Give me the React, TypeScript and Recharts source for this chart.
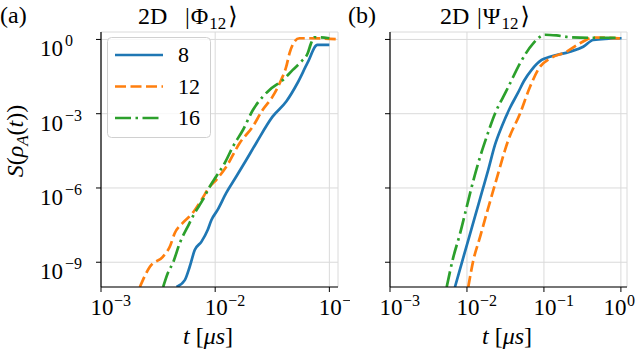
import React from "react";
import { LineChart, Line, XAxis, YAxis, CartesianGrid, Legend } from "recharts";

const FONT = "Liberation Serif, DejaVu Serif, serif";
const txt = { fontFamily: FONT };

// sizes of the subsystem (legend entries)
const sizes = ["8", "12", "16"];
const colors = ["#1f77b4", "#ff7f0e", "#2ca02c"];
const dashes = ["", "11 4.5", "16 4.5 2.5 4.5"];

// ticks
const yTicks = [1e-9, 1e-6, 1e-3, 1];
const phiXTicks = [1e-3, 1e-2, 1e-1];
const psiXTicks = [1e-3, 1e-2, 1e-1, 1];

// (a) 2D |Phi_12>
const phiT8 = [4.58e-3, 5.42e-3, 5.98e-3, 6.62e-3, 7.59e-3, 8.59e-3, 9.27e-3, 1.05e-2, 1.25e-2, 1.53e-2, 1.87e-2, 2.29e-2, 3.18e-2, 4.19e-2, 5.26e-2, 6.43e-2, 7.85e-2, 0.1];
const phiS8 = [1e-10, 1.9e-10, 6.6e-10, 3.1e-9, 6.8e-9, 2.0e-8, 5.1e-8, 1.3e-7, 6.3e-7, 2.9e-6, 1.35e-5, 6.6e-5, 7.6e-4, 3.1e-3, 1.74e-2, 0.112, 0.6, 0.6];
const phiT12 = [2.19e-3, 2.68e-3, 3.48e-3, 4.01e-3, 4.43e-3, 5.2e-3, 6.35e-3, 7.57e-3, 8.95e-3, 1.02e-2, 1.25e-2, 1.64e-2, 2.13e-2, 2.6e-2, 3.18e-2, 3.78e-2, 4.19e-2, 4.48e-2, 4.94e-2, 5.47e-2, 6.68e-2, 0.115];
const phiS12 = [1e-10, 6.6e-10, 1.66e-9, 4.3e-9, 1.51e-8, 3.9e-8, 9.8e-8, 3.3e-7, 1.12e-6, 2.1e-6, 7.2e-6, 6.6e-5, 3.0e-4, 1.41e-3, 4.9e-3, 2.29e-2, 7.9e-2, 0.28, 0.81, 1.12, 1.12, 1.02];
const phiT16 = [3.5e-3, 3.85e-3, 4.26e-3, 4.9e-3, 5.75e-3, 6.62e-3, 7.78e-3, 8.95e-3, 1.02e-2, 1.21e-2, 1.43e-2, 1.75e-2, 2.14e-2, 2.61e-2, 2.99e-2, 3.91e-2, 4.78e-2, 5.66e-2, 6.46e-2, 6.92e-2, 7.4e-2, 0.1];
const phiS16 = [1e-10, 3.7e-10, 9.3e-10, 6.0e-9, 2.75e-8, 9.8e-8, 3.3e-7, 1.12e-6, 2.9e-6, 1.0e-5, 4.7e-5, 2.2e-4, 1.41e-3, 4.9e-3, 9.1e-3, 2.29e-2, 5.9e-2, 0.126, 0.275, 0.71, 1.23, 1.12];

// (b) 2D |Psi_12>
const psiT8 = [6.98e-3, 8.53e-3, 1.04e-2, 1.27e-2, 1.55e-2, 1.89e-2, 2.31e-2, 2.85e-2, 3.61e-2, 4.59e-2, 5.5e-2, 6.92e-2, 9.33e-2, 0.12, 0.218, 0.324, 0.437, 1.02];
const psiS8 = [1e-10, 9.1e-10, 7.9e-9, 6.9e-8, 6.2e-7, 5.4e-6, 5.5e-5, 3.2e-4, 1.7e-3, 6.9e-3, 2.1e-2, 5.9e-2, 0.148, 0.2, 0.32, 0.51, 0.95, 1.12];
const psiT12 = [1.04e-2, 1.21e-2, 1.48e-2, 1.8e-2, 2.2e-2, 2.69e-2, 3.12e-2, 3.44e-2, 4.88e-2, 6.58e-2, 8.87e-2, 0.12, 0.197, 0.294, 0.437, 0.97];
const psiS12 = [1e-10, 1.2e-9, 1.05e-8, 9.3e-8, 8.1e-7, 7.1e-6, 3.4e-5, 8.5e-5, 1.0e-3, 1.2e-2, 7.8e-2, 0.17, 0.32, 0.7, 1.2, 1.1];
const psiT16 = [5.45e-3, 6.65e-3, 8.11e-3, 9.91e-3, 1.21e-2, 1.48e-2, 1.8e-2, 2.31e-2, 2.96e-2, 3.44e-2, 4.88e-2, 7.26e-2, 0.103, 0.146, 0.218, 0.395, 0.97];
const psiS16 = [1e-10, 1.6e-9, 1.4e-8, 1.7e-7, 2.0e-6, 1.8e-5, 1.15e-4, 1.0e-3, 4.8e-3, 1.2e-2, 0.108, 0.7, 1.55, 1.45, 1.23, 1.17, 1.17];

const zip = (t: number[], s: number[]) => t.map((v, i) => ({ t: v, s: s[i] }));

const phiSeries = [zip(phiT8, phiS8), zip(phiT12, phiS12), zip(phiT16, phiS16)];
const psiSeries = [zip(psiT8, psiS8), zip(psiT12, psiS12), zip(psiT16, psiS16)];

const supText = (v: number) => {
  const e = Math.round(Math.log10(v));
  return e < 0 ? `\u2212${-e}` : `${e}`;
};

function XTick(props: any) {
  const { x, y, payload, maxX } = props;
  // keep the last label inside the figure, like matplotlib does
  const shift = maxX ? Math.min(0, maxX - (x + 25)) : 0;
  const cx = x + 1 + shift;
  return (
    <g>
      <text x={cx} y={y + 21} textAnchor="middle" fontSize={23} style={txt} fill="#000">
        10
      </text>
      <text x={cx + 12} y={y + 12} fontSize={16} style={txt} fill="#000">
        {supText(payload.value)}
      </text>
    </g>
  );
}

function YTick(props: any) {
  const { x, y, payload } = props;
  return (
    <g>
      <text x={x - 31} y={y + 17} textAnchor="end" fontSize={23} style={txt} fill="#000">
        10
      </text>
      <text x={x - 29} y={y + 7} fontSize={16} style={txt} fill="#000">
        {supText(payload.value)}
      </text>
    </g>
  );
}

const NoTick = () => <g />;

const renderLegend = () => (
  <svg width={104} height={101} style={{ display: "block" }}>
    <rect x={0.5} y={0.5} width={103} height={100} rx={4} fill="#fff" fillOpacity={0.8} stroke="#d0d0d0" />
    {sizes.map((name, i) => (
      <g key={name}>
        <line
          x1={8}
          x2={56}
          y1={18 + i * 31.5}
          y2={18 + i * 31.5}
          stroke={colors[i]}
          strokeWidth={2.7}
          strokeDasharray={dashes[i]}
        />
        <text x={71} y={25 + i * 31.5} fontSize={22} style={txt} fill="#000">
          {name}
        </text>
      </g>
    ))}
  </svg>
);

interface PanelProps {
  left: number;
  width: number;
  margin: { top: number; right: number; bottom: number; left: number };
  yWidth: number;
  xDomain: [number, number];
  xTicks: number[];
  data: { t: number; s: number }[][];
  labels: boolean;
  legend: boolean;
  maxX?: number;
}

function Panel({ left, width, margin, yWidth, xDomain, xTicks, data, labels, legend, maxX }: PanelProps) {
  return (
    <div style={{ position: "absolute", left, top: 0 }}>
      <LineChart width={width} height={351} margin={margin}>
        <CartesianGrid stroke="#dadada" strokeWidth={1} />
        <XAxis
          dataKey="t"
          type="number"
          scale="log"
          domain={xDomain}
          allowDataOverflow
          ticks={xTicks}
          height={40}
          tickSize={5}
          tick={<XTick maxX={maxX} />}
          tickLine={{ stroke: "#000", strokeWidth: 1 }}
          axisLine={{ stroke: "#000", strokeWidth: 1.2 }}
        />
        <XAxis
          xAxisId="top"
          orientation="top"
          type="number"
          scale="log"
          domain={xDomain}
          allowDataOverflow
          height={0}
          tick={false}
          tickLine={false}
          axisLine={{ stroke: "#000", strokeWidth: 1.2 }}
        />
        <YAxis
          type="number"
          scale="log"
          domain={[1e-10, 2]}
          allowDataOverflow
          ticks={yTicks}
          width={yWidth}
          tickSize={5}
          tick={labels ? <YTick /> : <NoTick />}
          tickLine={{ stroke: "#000", strokeWidth: 1 }}
          axisLine={{ stroke: "#000", strokeWidth: 1.2 }}
        />
        <YAxis
          yAxisId="right"
          orientation="right"
          type="number"
          domain={[0, 1]}
          width={0}
          tick={false}
          tickLine={false}
          axisLine={{ stroke: "#000", strokeWidth: 1.2 }}
        />
        {legend && (
          <Legend
            layout="horizontal"
            verticalAlign="middle"
            align="center"
            content={renderLegend}
            wrapperStyle={{ left: 107, top: 37, width: 104, height: 101 }}
          />
        )}
        {data.map((pts, i) => (
          <Line
            key={sizes[i]}
            data={pts}
            dataKey="s"
            name={sizes[i]}
            type="monotone"
            stroke={colors[i]}
            strokeWidth={2.7}
            strokeDasharray={dashes[i] || undefined}
            dot={false}
            activeDot={false}
            isAnimationActive={false}
          />
        ))}
      </LineChart>
    </div>
  );
}

export default function App() {
  return (
    <div style={{ position: "absolute", left: 0, top: 0, width: 640, height: 351, background: "#fff" }}>
      <Panel
        left={0}
        width={350}
        margin={{ top: 32, right: 12, bottom: 24, left: 39 }}
        yWidth={62}
        xDomain={[1e-3, 0.119]}
        xTicks={phiXTicks}
        data={phiSeries}
        labels
        legend
      />
      <Panel
        left={330}
        width={310}
        margin={{ top: 32, right: 13, bottom: 24, left: 20 }}
        yWidth={40}
        xDomain={[1e-3, 1.2]}
        xTicks={psiXTicks}
        data={psiSeries}
        labels={false}
        legend={false}
        maxX={309}
      />
      <svg
        width={640}
        height={351}
        style={{ position: "absolute", left: 0, top: 0, pointerEvents: "none", fontFamily: FONT }}
        fill="#000"
      >
        <text x={0} y={23} fontSize={24}>(a)</text>
        <text x={138} y={24} fontSize={24}>2D</text>
        <text x={185} y={24} fontSize={24}>
          |<tspan dx={1}>Φ</tspan>
          <tspan fontSize={17} dy={5} dx={1}>12</tspan>
          <tspan dy={-5} dx={2}>⟩</tspan>
        </text>
        <text x={348} y={23} fontSize={24}>(b)</text>
        <text x={440} y={24} fontSize={24}>2D</text>
        <text x={477} y={24} fontSize={24}>
          |<tspan dx={1}>Ψ</tspan>
          <tspan fontSize={17} dy={5} dx={1}>12</tspan>
          <tspan dy={-5} dx={2}>⟩</tspan>
        </text>
        <text transform="translate(23,141) rotate(-90)" textAnchor="middle" fontSize={24}>
          <tspan fontStyle="italic">S</tspan>(<tspan fontStyle="italic">ρ</tspan>
          <tspan fontStyle="italic" fontSize={17} dy={5}>A</tspan>
          <tspan dy={-5}>(</tspan>
          <tspan fontStyle="italic">t</tspan>))
        </text>
        <text x={208} y={344} textAnchor="middle" fontSize={24}>
          <tspan fontStyle="italic">t</tspan> [<tspan fontStyle="italic">μs</tspan>]
        </text>
        <text x={507} y={344} textAnchor="middle" fontSize={24}>
          <tspan fontStyle="italic">t</tspan> [<tspan fontStyle="italic">μs</tspan>]
        </text>
      </svg>
    </div>
  );
}
